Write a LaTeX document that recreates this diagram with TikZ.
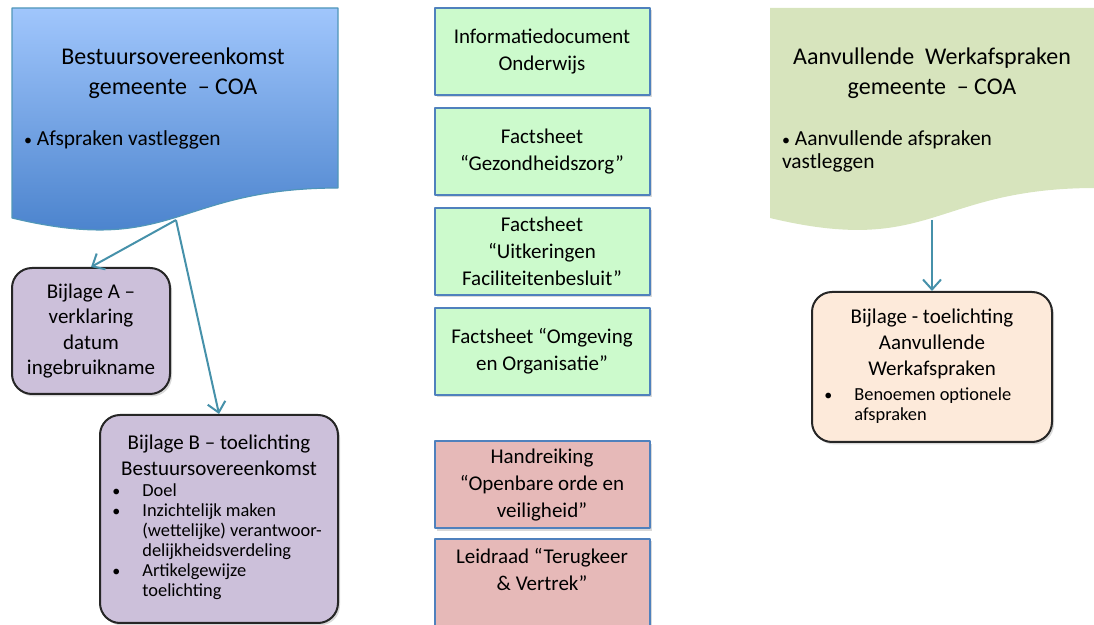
\documentclass[tikz,border=0pt]{standalone}
\usepackage{fontspec}
\setmainfont{Carlito}
\usetikzlibrary{arrows.meta,shadows}

\definecolor{pijlkleur}{RGB}{70,145,170}
\definecolor{blauwlicht}{RGB}{160,198,252}
\definecolor{blauwdonker}{RGB}{66,124,200}
\definecolor{blauwrand}{RGB}{80,150,185}
\definecolor{olijf}{RGB}{215,228,189}
\definecolor{mint}{RGB}{204,250,204}
\definecolor{roze}{RGB}{230,185,184}
\definecolor{lila}{RGB}{204,192,218}
\definecolor{perzik}{RGB}{253,234,218}
\definecolor{kaderblauw}{RGB}{79,129,189}

\newcommand{\punt}{{\fontsize{8}{8}\selectfont•}}

\tikzset{
  schaduw/.style={drop shadow={shadow xshift=1pt,shadow yshift=-1.2pt,opacity=0.3}},
  kader/.style={draw=kaderblauw,line width=1pt,minimum width=107.5pt,minimum height=43.5pt,
    align=center,inner sep=2pt,font=\fontsize{10.5}{13.5}\selectfont,schaduw},
  bijlage/.style={draw=black!85,line width=1pt,rounded corners=10pt,align=center,
    font=\fontsize{10.5}{12.7}\selectfont,schaduw},
  doctitel/.style={align=center,font=\fontsize{12}{15}\selectfont},
  doctekst/.style={align=left,anchor=west,font=\fontsize{10.7}{11.5}\selectfont},
  lijst/.style={anchor=north west,inner sep=0pt,font=\fontsize{9.2}{10}\selectfont},
  pijl/.style={draw=pijlkleur,line width=1pt,-{Straight Barb[length=5pt,width=9pt]}},
}

\begin{document}
\begin{tikzpicture}[x=0.5pt,y=-0.5pt,line join=round]
\useasboundingbox (0,0) rectangle (1094,625);

% Bestuursovereenkomst (document shape)
\draw[draw=blauwrand,line width=0.6pt,top color=blauwlicht,bottom color=blauwdonker]
  (12,8) -- (338,8) -- (338,188) .. controls (175,188) and (175,257) .. (12,218) -- cycle;
\node[doctitel] (bovk) at (173,73) {Bestuursovereenkomst\\gemeente \ – COA};
\node[doctekst] (bovk-punt) at (17,140) {\punt\ Afspraken vastleggen};
\coordinate (bovk-uit) at (176,220);

% Aanvullende Werkafspraken (document shape)
\fill[olijf] (770,8) -- (1096,8) -- (1096,188) .. controls (933,188) and (933,257) .. (770,218) -- cycle;
\node[doctitel] (awa) at (932,73) {Aanvullende \ Werkafspraken\\gemeente \ – COA};
\node[doctekst] (awa-punt) at (775,151) {\punt\ Aanvullende afspraken\\vastleggen};
\coordinate (awa-uit) at (932,220);

% bijlagen
\node[bijlage,fill=lila,minimum width=79pt,minimum height=63pt] (bijlA) at (91,331)
  {Bijlage A –\\verklaring\\datum\\ingebruikname};
\node[bijlage,fill=lila,minimum width=119pt,minimum height=104pt] (bijlB) at (219,519) {};
\node[align=center,font=\fontsize{10.5}{13}\selectfont] (bijlB-titel) at (219,455)
  {Bijlage B – toelichting\\Bestuursovereenkomst};
\node[lijst] (bijlB-lijst) at (112,482) {\begin{tabular}{@{}p{15pt}@{}l@{}}
  \punt & Doel\\
  \punt & Inzichtelijk maken\\
        & (wettelijke) verantwoor-\\
        & delijkheidsverdeling\\
  \punt & Artikelgewijze\\
        & toelichting
  \end{tabular}};

\node[bijlage,fill=perzik,minimum width=120pt,minimum height=75pt] (bijlR) at (932,367) {};
\node[align=center,font=\fontsize{10.5}{13}\selectfont] (bijlR-titel) at (932,344)
  {Bijlage - toelichting\\Aanvullende\\Werkafspraken};
\node[lijst] (bijlR-lijst) at (824,386) {\begin{tabular}{@{}p{15pt}@{}l@{}}
  \punt & Benoemen optionele\\
        & afspraken
  \end{tabular}};

% middelste kolom
\node[kader,fill=mint] (info) at (542,51.5) {Informatiedocument\\Onderwijs};
\node[kader,fill=mint] (gezond) at (542,151.5) {Factsheet\\“Gezondheidszorg”};
\node[kader,fill=mint] (uitk) at (542,251.5) {Factsheet\\“Uitkeringen\\Faciliteitenbesluit”};
\node[kader,fill=mint] (omgev) at (542,351.5) {Factsheet “Omgeving\\en Organisatie”};
\node[kader,fill=roze] (orde) at (542,485) {Handreiking\\“Openbare orde en\\veiligheid”};
\node[kader,fill=roze,minimum height=47pt,anchor=north] (leidraad) at (542,538) {};
\node[align=center,font=\fontsize{10.5}{13.5}\selectfont] (leidraad-tekst) at (542,570)
  {Leidraad “Terugkeer\\\& Vertrek”};

% pijlen
\draw[pijl] (bovk-uit) -- (bijlA.north);
\draw[pijl] (bovk-uit) -- (bijlB.north);
\draw[pijl] (awa-uit) -- (bijlR.north);
\end{tikzpicture}
\end{document}
